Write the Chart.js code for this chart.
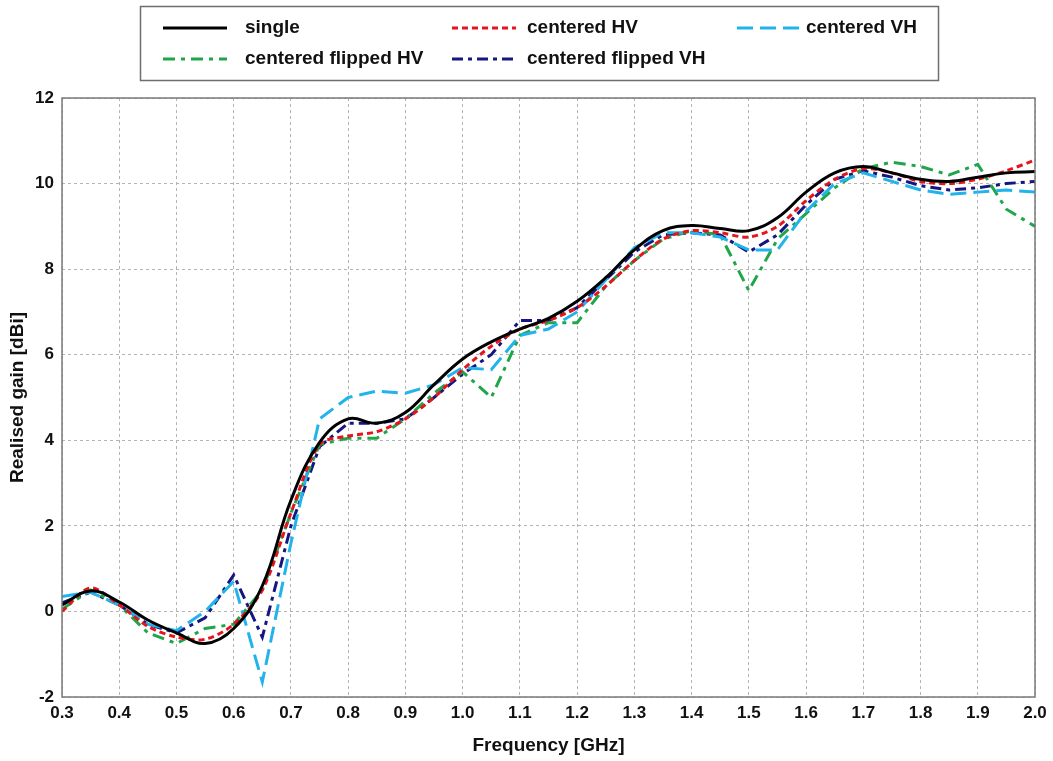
<!DOCTYPE html>
<html>
<head>
<meta charset="utf-8">
<script src="https://cdn.jsdelivr.net/npm/chart.js@4"></script>
<style>
    html, body { margin: 0; padding: 0; background: #fff; }
    #wrap { width: 1053px; height: 761px; }
</style>
</head>
<body>
<div id="wrap"><canvas id="gainChart" width="1053" height="761"></canvas></div>
<script>
// 频率 (GHz)
const frequencies = [0.30, 0.35, 0.40, 0.45, 0.50, 0.55, 0.60, 0.65, 0.70, 0.75, 0.80, 0.85,
    0.90, 0.95, 1.00, 1.05, 1.10, 1.15, 1.20, 1.25, 1.30, 1.35, 1.40, 1.45, 1.50, 1.55,
    1.60, 1.65, 1.70, 1.75, 1.80, 1.85, 1.90, 1.95, 2.00];

// 各配置的实际增益 (dBi)
const singleGain = [0.15, 0.48, 0.22, -0.20, -0.50, -0.75, -0.40, 0.60, 2.60, 3.95, 4.50, 4.40,
    4.65, 5.30, 5.90, 6.30, 6.60, 6.85, 7.25, 7.80, 8.45, 8.90, 9.02, 8.95, 8.90, 9.20,
    9.80, 10.25, 10.40, 10.25, 10.10, 10.05, 10.15, 10.25, 10.28];
const centeredHV = [0.00, 0.55, 0.15, -0.35, -0.60, -0.65, -0.30, 0.50, 2.30, 3.90, 4.10, 4.20,
    4.50, 5.00, 5.65, 6.20, 6.60, 6.80, 7.10, 7.60, 8.20, 8.70, 8.90, 8.85, 8.75, 9.00,
    9.60, 10.10, 10.35, 10.25, 10.05, 10.00, 10.10, 10.30, 10.55];
const centeredVH = [0.35, 0.45, 0.15, -0.30, -0.45, 0.00, 0.70, -1.65, 1.60, 4.50, 5.00, 5.15,
    5.10, 5.30, 5.70, 5.65, 6.45, 6.60, 7.00, 7.75, 8.50, 8.85, 8.85, 8.75, 8.45, 8.45,
    9.35, 10.00, 10.25, 10.05, 9.85, 9.75, 9.80, 9.85, 9.80];
const flippedHV = [0.05, 0.50, 0.15, -0.50, -0.75, -0.40, -0.30, 0.50, 2.30, 3.90, 4.05, 4.05,
    4.50, 5.10, 5.60, 5.00, 6.45, 6.75, 6.75, 7.60, 8.20, 8.70, 8.90, 8.80, 7.50, 8.70,
    9.30, 9.90, 10.35, 10.50, 10.40, 10.20, 10.45, 9.40, 9.00];
const flippedVH = [0.20, 0.45, 0.15, -0.30, -0.50, -0.15, 0.85, -0.60, 2.00, 3.85, 4.40, 4.40,
    4.50, 5.00, 5.55, 6.00, 6.80, 6.80, 7.10, 7.75, 8.40, 8.80, 8.85, 8.80, 8.40, 8.80,
    9.50, 10.10, 10.30, 10.15, 9.95, 9.85, 9.90, 10.00, 10.05];

// 图例标签
const seriesLabels = ['single', 'centered HV', 'centered VH', 'centered flipped HV', 'centered flipped VH'];

function toPoints(values) {
    return values.map((v, i) => ({ x: frequencies[i], y: v }));
}

const seriesStyles = [
    { color: '#000000', dash: [], tension: 0.4 },
    { color: '#e8141b', dash: [6, 4], tension: 0.3 },
    { color: '#22b3ea', dash: [16, 7], tension: 0 },
    { color: '#1fa64a', dash: [12, 6, 4, 6], tension: 0 },
    { color: '#161680', dash: [11, 5, 4, 5], tension: 0 }
];
const seriesValues = [singleGain, centeredHV, centeredVH, flippedHV, flippedVH];

// 图例框 (画在画布上)
const legendBox = {
    id: 'legendBox',
    afterDraw(chart) {
        const ctx = chart.ctx;
        ctx.save();
        ctx.strokeStyle = '#6e6e6e';
        ctx.lineWidth = 1.5;
        ctx.setLineDash([]);
        ctx.strokeRect(140.5, 6.5, 798, 74);

        const slots = [
            { x: 163, y: 28, tx: 245 }, { x: 452, y: 28, tx: 527 }, { x: 737, y: 28, tx: 806 },
            { x: 163, y: 59, tx: 245 }, { x: 452, y: 59, tx: 527 }
        ];
        ctx.font = 'bold 19px "Liberation Sans", Arial, sans-serif';
        ctx.textBaseline = 'middle';
        chart.data.datasets.forEach((ds, i) => {
            const s = slots[i];
            ctx.beginPath();
            ctx.strokeStyle = ds.borderColor;
            ctx.lineWidth = 3;
            ctx.setLineDash(ds.borderDash);
            ctx.moveTo(s.x, s.y);
            ctx.lineTo(s.x + 64, s.y);
            ctx.stroke();
            ctx.setLineDash([]);
            ctx.fillStyle = '#111';
            ctx.fillText(ds.label, s.tx, s.y);
        });
        ctx.restore();
    }
};

// 绘图区外框
const plotFrame = {
    id: 'plotFrame',
    afterDatasetsDraw(chart) {
        const a = chart.chartArea;
        const ctx = chart.ctx;
        ctx.save();
        ctx.strokeStyle = '#7a7a7a';
        ctx.lineWidth = 1.5;
        ctx.strokeRect(a.left, a.top, a.right - a.left, a.bottom - a.top);
        ctx.restore();
    }
};

const tickFont = { family: '"Liberation Sans", Arial, sans-serif', size: 17, weight: 'bold' };
const titleFont = { family: '"Liberation Sans", Arial, sans-serif', size: 19, weight: 'bold' };

new Chart(document.getElementById('gainChart'), {
    type: 'line',
    data: {
        datasets: seriesValues.map((vals, i) => ({
            label: seriesLabels[i],
            data: toPoints(vals),
            borderColor: seriesStyles[i].color,
            backgroundColor: seriesStyles[i].color,
            borderDash: seriesStyles[i].dash,
            borderWidth: 3,
            tension: seriesStyles[i].tension,
            pointRadius: 0,
            fill: false
        }))
    },
    options: {
        responsive: false,
        animation: false,
        layout: { padding: { top: 98, right: 18, left: 0, bottom: 0 } },
        plugins: {
            legend: { display: false },
            tooltip: { enabled: false }
        },
        scales: {
            x: {
                type: 'linear',
                min: 0.3,
                max: 2.0,
                afterFit(scale) { scale.height = 64; },
                afterBuildTicks(scale) {
                    scale.ticks = [];
                    for (let i = 3; i <= 20; i++) scale.ticks.push({ value: i / 10 });
                },
                ticks: {
                    color: '#111',
                    font: tickFont,
                    padding: 6,
                    maxRotation: 0,
                    callback: v => v.toFixed(1)
                },
                grid: { color: '#b4b4b4', lineWidth: 1, drawTicks: false },
                border: { display: false, dash: [3, 3] },
                title: { display: true, text: 'Frequency [GHz]', color: '#111', font: titleFont, padding: { top: 2 } }
            },
            y: {
                min: -2,
                max: 12,
                afterFit(scale) { scale.width = 62; },
                ticks: { stepSize: 2, color: '#111', font: tickFont, padding: 8 },
                grid: { color: '#b4b4b4', lineWidth: 1, drawTicks: false },
                border: { display: false, dash: [3, 3] },
                title: { display: true, text: 'Realised gain [dBi]', color: '#111', font: titleFont, padding: { top: 6, bottom: 4 } }
            }
        }
    },
    plugins: [plotFrame, legendBox]
});
</script>
</body>
</html>
